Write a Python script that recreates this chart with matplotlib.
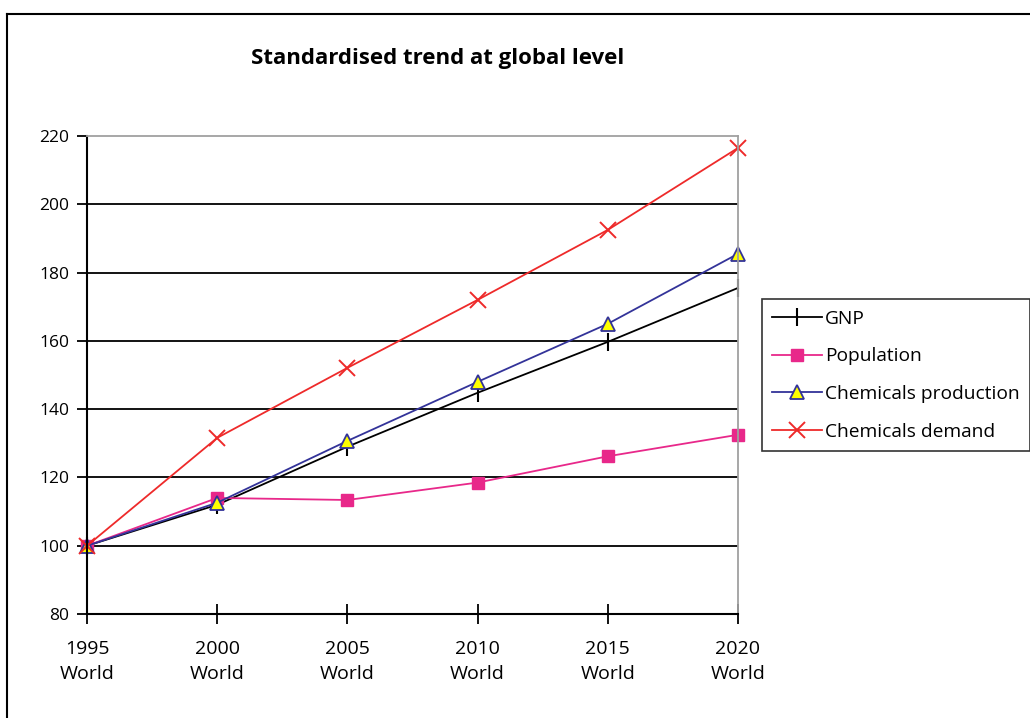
import matplotlib.pyplot as plt
from matplotlib.lines import Line2D

plt.rcParams['font.family'] = ['Open Sans', 'DejaVu Sans']

years = ['1995', '2000', '2005', '2010', '2015', '2020']
region = 'World'
gnp = [100, 112, 129, 144.8, 159.7, 175.5]
population = [100, 114, 113.4, 118.5, 126.2, 132.5]
chem_production = [100, 112.6, 130.7, 148, 165, 185.5]
chem_demand = [100, 131.6, 152.1, 172, 192.5, 216.5]

fig = plt.figure(figsize=(10.3, 7.18), dpi=100)
ax = fig.add_axes([0.0845, 0.1448, 0.632, 0.6658])

x = list(range(len(years)))
ax.plot(x, gnp, color='black', lw=1.3, marker='|', ms=13, mew=1.5, label='GNP', clip_on=False)
ax.plot(x, population, color='#E8288A', lw=1.3, marker='s', ms=9, label='Population',
        clip_on=False)
ax.plot(x, chem_production, color='#333399', lw=1.3, marker='^', ms=10,
        mfc='#FFFF00', mec='#333399', mew=1.3, label='Chemicals production', clip_on=False)
ax.plot(x, chem_demand, color='#EE2A2A', lw=1.3, marker='x', ms=11, mew=1.4,
        label='Chemicals demand', clip_on=False)

ax.set_xlim(0, len(years) - 1)
ax.set_ylim(80, 220)
ax.set_yticks(range(80, 221, 20))
ax.set_xticks(x)
ax.set_xticklabels([f'{y}\n{region}' for y in years], linespacing=1.45)

for yv in range(100, 201, 20):
    ax.axhline(yv, color='black', lw=1.3, zorder=0.5)

for s in ['top', 'right']:
    ax.spines[s].set_color('#A0A0A0')
    ax.spines[s].set_linewidth(1.3)
for s in ['left', 'bottom']:
    ax.spines[s].set_color('black')
    ax.spines[s].set_linewidth(1.5)

ax.tick_params(axis='y', direction='out', length=7, width=1.3, labelsize=12.5, pad=6)
ax.tick_params(axis='x', direction='inout', length=14, width=1.3, labelsize=14, pad=12)

fig.text(0.425, 0.918, 'Standardised trend at global level', ha='center', va='center',
         fontsize=16, fontweight='bold')

leg = fig.legend(loc='upper left', bbox_to_anchor=(0.7395, 0.583), fontsize=13.8,
                 frameon=True, fancybox=False, edgecolor='black', handlelength=2.6,
                 handletextpad=0.15, borderpad=0.55, labelspacing=1.02, borderaxespad=0)
leg.get_frame().set_linewidth(1.2)

# outer frame: only top and left edges are drawn
fig.add_artist(Line2D([0.007, 1.0], [0.981, 0.981], transform=fig.transFigure,
                      color='black', lw=1.5))
fig.add_artist(Line2D([0.007, 0.007], [0.0, 0.981], transform=fig.transFigure,
                      color='black', lw=1.5))

fig.savefig('out.png', dpi=100)
